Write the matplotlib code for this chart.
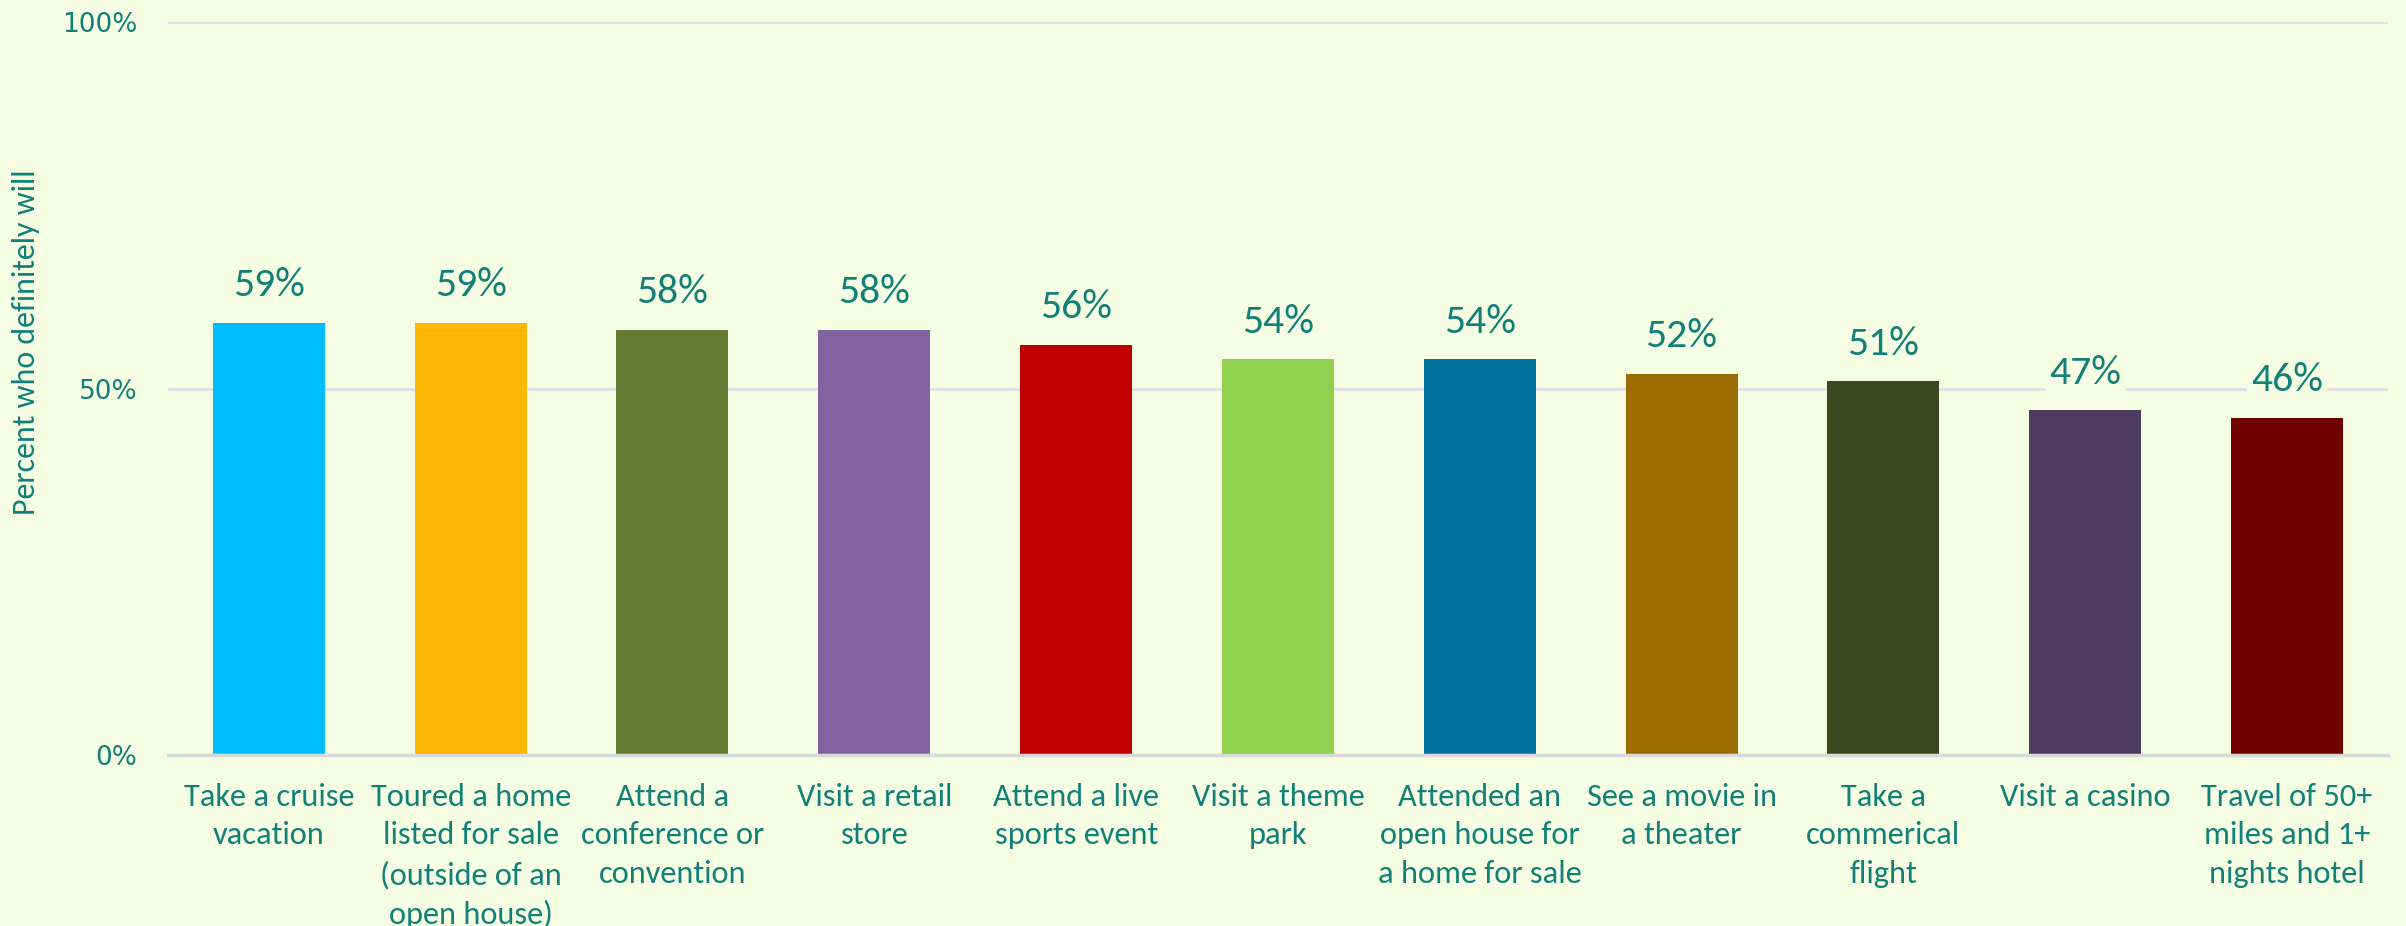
import matplotlib
matplotlib.use("Agg")
import matplotlib.pyplot as plt
from matplotlib import font_manager
from matplotlib.ticker import FixedLocator

# --- data ---------------------------------------------------------------
activities = [
    "Take a cruise\nvacation",
    "Toured a home\nlisted for sale\n(outside of an\nopen house)",
    "Attend a\nconference or\nconvention",
    "Visit a retail\nstore",
    "Attend a live\nsports event",
    "Visit a theme\npark",
    "Attended an\nopen house for\na home for sale",
    "See a movie in\na theater",
    "Take a\ncommerical\nflight",
    "Visit a casino",
    "Travel of 50+\nmiles and 1+\nnights hotel",
]
pct_definitely = [59, 59, 58, 58, 56, 54, 54, 52, 51, 47, 46]
y_ticks = [0, 50, 100]
y_tick_labels = ["0%", "50%", "100%"]

bar_colors = ["#00BFFF", "#FFB607", "#667C32", "#8064A1", "#C00000",
              "#92D050", "#00729C", "#9C6D00", "#3B4A1F", "#4C3A5F", "#700000"]

# --- styling ------------------------------------------------------------
BG = "#F5FDE3"
TEXT = "#127F79"

available = {f.name for f in font_manager.fontManager.ttflist}
narrow = next((f for f in ["Carlito", "Liberation Sans Narrow", "PT Sans Narrow",
                           "Roboto Condensed", "Open Sans Condensed",
                           "Fira Sans Condensed", "Archivo Narrow", "Open Sans"]
                if f in available), "DejaVu Sans")

fig = plt.figure(figsize=(24.06, 9.26), dpi=100, facecolor=BG)
ax = fig.add_axes([0.0698, 0.1847, 0.9227, 0.7915], facecolor=BG)

x = list(range(len(activities)))
ax.bar(x, pct_definitely, width=0.555, color=bar_colors, zorder=2)

for xi, v in zip(x, pct_definitely):
    ax.annotate(f"{v}%", (xi, v), xytext=(0, 14), textcoords="offset points",
                ha="center", va="bottom", fontsize=30, color=TEXT,
                family=narrow, zorder=3,
                bbox=dict(boxstyle="square,pad=0.1", fc=BG, ec="none"))

ax.set_ylim(0, 100)
ax.set_xlim(-0.5, len(activities) - 0.5)
ax.yaxis.set_major_locator(FixedLocator(y_ticks))
ax.set_yticklabels(y_tick_labels, fontsize=19, color=TEXT, family="DejaVu Sans")
ax.set_xticks(x)
ax.set_xticklabels(activities, fontsize=23.3, color=TEXT, family=narrow,
                   linespacing=1.46)
ax.tick_params(axis="both", length=0)
ax.tick_params(axis="x", pad=20)
ax.tick_params(axis="y", pad=22)

ax.grid(axis="y", color="#E2E1E6", linewidth=2.2, zorder=1)
for side in ["top", "right", "left"]:
    ax.spines[side].set_visible(False)
ax.spines["bottom"].set_color("#D9D9D9")
ax.spines["bottom"].set_linewidth(2.5)
ax.spines["bottom"].set_zorder(2.5)

fig.text(26 / 2406, 1 - 342 / 926, "Percent who definitely will",
         rotation=90, ha="center", va="center", fontsize=23, color=TEXT,
         family=narrow)

fig.savefig("out.png", dpi=100, facecolor=BG)
